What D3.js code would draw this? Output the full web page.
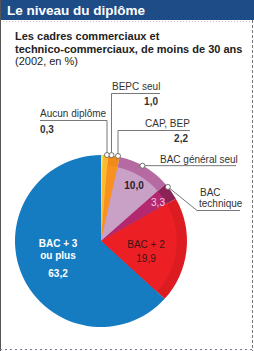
<!DOCTYPE html>
<html>
<head>
<meta charset="utf-8">
<script src="https://cdn.jsdelivr.net/npm/d3@7"></script>
<style>
  body { margin: 0; background: #fff; }
  text { font-family: "Liberation Sans", Arial, sans-serif; }
</style>
</head>
<body>
<script>
// Diplômes des cadres commerciaux de moins de 30 ans (2002, en %)
var categories = ["Aucun diplôme", "BEPC seul", "CAP, BEP", "BAC général seul", "BAC technique", "BAC + 2", "BAC + 3 ou plus"];
var values = [0.3, 1.0, 2.2, 10.0, 3.3, 19.9, 63.2];
var valueLabels = ["0,3", "1,0", "2,2", "10,0", "3,3", "19,9", "63,2"];
var colors = ["#fff000", "#fbb830", "#f7921e", "#c9a0c6", "#b42870", "#ec2024", "#157cc2"];
var rimColors = ["#fff000", "#fbb830", "#f08a18", "#b56ba2", "#8c2356", "#dc1c20", "#157cc2"];

var W = 254, H = 351;
var svg = d3.select("body").append("svg")
  .attr("width", W)
  .attr("height", H);

svg.append("rect").attr("width", W).attr("height", H).attr("fill", "#fff");

// bandeau titre
svg.append("rect").attr("x", 0).attr("y", 0).attr("width", W).attr("height", 20).attr("fill", "#1d4c86");
svg.append("text").attr("x", 7).attr("y", 15)
  .attr("fill", "#fff").style("font-size", "13.5px").style("font-weight", "bold")
  .text("Le niveau du diplôme");
svg.append("line").attr("x1", 0).attr("x2", W).attr("y1", 21.5).attr("y2", 21.5)
  .attr("stroke", "#d9b8c8").attr("stroke-dasharray", "1,2");

// bordures
svg.append("line").attr("x1", 0.5).attr("x2", 0.5).attr("y1", 0).attr("y2", H)
  .attr("stroke", "#555");
svg.append("line").attr("x1", 252.5).attr("x2", 252.5).attr("y1", 20).attr("y2", H)
  .attr("stroke", "#777").attr("stroke-dasharray", "3,2");
svg.append("line").attr("x1", 0).attr("x2", W).attr("y1", 349.5).attr("y2", 349.5)
  .attr("stroke", "#7a7a9a").attr("stroke-dasharray", "2,3");

// sous-titre
var sub = svg.append("g").style("font-size", "11px").attr("fill", "#222");
sub.append("text").attr("x", 15).attr("y", 40).style("font-weight", "bold").text("Les cadres commerciaux et");
sub.append("text").attr("x", 15).attr("y", 53).style("font-weight", "bold").text("technico-commerciaux, de moins de 30 ans");
sub.append("text").attr("x", 15).attr("y", 65).text("(2002, en %)");

// camembert
var cx = 101, cy = 241, r = 86;
var pie = d3.pie().sort(null).value(function (d) { return d; });
var arcs = pie(values);
var outer = d3.arc().innerRadius(0).outerRadius(r);
var inner = d3.arc().innerRadius(0).outerRadius(r * 0.88);

var g = svg.append("g").attr("transform", "translate(" + cx + "," + cy + ")");
g.selectAll("path.rim")
  .data(arcs)
  .enter()
  .append("path")
  .attr("class", "rim")
  .attr("d", outer)
  .attr("fill", function (d, i) { return rimColors[i]; });
g.selectAll("path.slice")
  .data(arcs)
  .enter()
  .append("path")
  .attr("class", "slice")
  .attr("d", inner)
  .attr("fill", function (d, i) { return colors[i]; });

// étiquettes internes
var inLabels = [
  { lines: [["10,0", 189]], x: 134, fill: "#2a1a2a", bold: true },
  { lines: [["3,3", 206]], x: 158, fill: "#f0d0e0", bold: false },
  { lines: [["BAC + 2", 248], ["19,9", 262]], x: 146, fill: "#3a1414", bold: false },
  { lines: [["BAC + 3", 247], ["ou plus", 259], ["63,2", 277]], x: 58, fill: "#fff", bold: true }
];
inLabels.forEach(function (l) {
  var t = svg.append("text").attr("text-anchor", "middle").attr("fill", l.fill)
    .style("font-size", "10px").style("font-weight", l.bold ? "bold" : "normal");
  l.lines.forEach(function (s) {
    t.append("tspan").attr("x", l.x).attr("y", s[1]).text(s[0]);
  });
});

// repères externes
function edgePoint(i, frac) {
  var a = arcs[i].startAngle + (arcs[i].endAngle - arcs[i].startAngle) * frac;
  return [cx + r * Math.sin(a), cy - r * Math.cos(a)];
}
var lead = svg.append("g").attr("fill", "none").attr("stroke", "#555").attr("stroke-width", 0.8);
var lab = svg.append("g").attr("fill", "#333").style("font-size", "10px");

var p0 = edgePoint(0, 0.5), p1 = edgePoint(1, 0.5), p2 = edgePoint(2, 0.5);
p0[0] = 107; p1[0] = 111.5; p2[0] = 118;
lead.append("polyline").attr("points", [[p0[0], p0[1]], [p0[0], 120.5], [40, 120.5]].join(" "));
lead.append("polyline").attr("points", [[p1[0], p1[1]], [p1[0], 93.5], [160, 93.5]].join(" "));
lead.append("polyline").attr("points", [[p2[0], p2[1]], [p2[0], 130.5], [190, 130.5]].join(" "));
var p3 = edgePoint(3, 0.45), p4 = edgePoint(4, 0.2);
lead.append("polyline").attr("points", [[p3[0], p3[1]], [236, p3[1]]].join(" "));
lead.append("polyline").attr("points", [[p4[0], p4[1]], [197, 210.5], [240, 210.5]].join(" "));

lab.append("text").attr("x", 40).attr("y", 117).text(categories[0]);
lab.append("text").attr("x", 40).attr("y", 133).style("font-weight", "bold").text(valueLabels[0]);
lab.append("text").attr("x", 112).attr("y", 90).text(categories[1]);
lab.append("text").attr("x", 158).attr("y", 105).attr("text-anchor", "end").style("font-weight", "bold").text(valueLabels[1]);
lab.append("text").attr("x", 145).attr("y", 127).text(categories[2]);
lab.append("text").attr("x", 188).attr("y", 142).attr("text-anchor", "end").style("font-weight", "bold").text(valueLabels[2]);
lab.append("text").attr("x", 160).attr("y", p3[1] - 3).text(categories[3]);
lab.append("text").attr("x", 200).attr("y", 196).text("BAC");
lab.append("text").attr("x", 199).attr("y", 207).text("technique");

svg.append("g").selectAll("circle")
  .data([p0, p1, p2, p3, p4])
  .enter()
  .append("circle")
  .attr("cx", function (d) { return d[0]; })
  .attr("cy", function (d) { return d[1]; })
  .attr("r", 2.5)
  .attr("fill", "#fff")
  .attr("stroke", "#555")
  .attr("stroke-width", 0.8);
</script>
</body>
</html>
